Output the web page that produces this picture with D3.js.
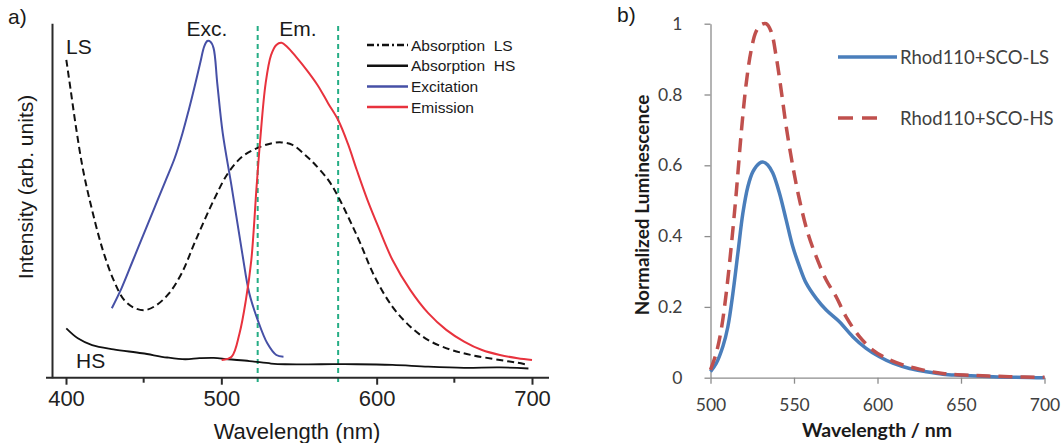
<!DOCTYPE html>
<html>
<head>
<meta charset="utf-8">
<script src="https://cdn.jsdelivr.net/npm/d3@7"></script>
<style>
  html, body { margin: 0; padding: 0; background: #fff; }
  svg { display: block; }
</style>
</head>
<body>
<svg id="fig" width="1061" height="443"></svg>
<script>
// ---------- Panel a: absorption / excitation / emission spectra ----------
const aTicksMajor = [400, 500, 600, 700];
const aTicksMinor = [450, 650];
const aFilterEdges = [523.4, 575.2];

// [wavelength nm, intensity arb.]
const absLS = [
  [400.2, 89.7], [403, 81.2], [406.4, 70.8], [411, 58.6], [416.8, 47.3], [423.7, 36],
  [430.6, 27.6], [437.5, 21.9], [444.4, 19.6], [451.3, 19.1], [458.3, 20.5], [466.3, 23.8],
  [474.4, 29.4], [483.6, 38.9], [495.1, 50.1], [504.3, 57.7], [513.5, 62.4], [522.7, 64.7],
  [532, 66.1], [538.8, 66.4], [545.8, 65.7], [555, 62.4], [559.6, 60.5], [568.8, 55.8],
  [575.2, 51.1], [582.6, 44.5], [589.5, 37.9], [598.7, 28.5], [610.2, 20], [621.7, 14.4],
  [633.2, 10.6], [647, 8], [660.9, 6.4], [679.3, 5], [690.8, 4.2], [697.7, 3.6]
];
const absHS = [
  [400.2, 13.9], [407.6, 11.1], [416.8, 9.2], [430.6, 8], [449, 6.9], [465.2, 5.7],
  [476.7, 5.2], [485.9, 5.5], [495.1, 5.6], [504.3, 5.2], [518.1, 4.7], [532, 4],
  [541.1, 3.8], [564.2, 3.8], [587.2, 3.8], [610.2, 3.6], [633.2, 3.1], [656.3, 2.8],
  [679.3, 2.9], [697.7, 2.6]
];
const excitation = [
  [429.5, 19.6], [436, 25.5], [443, 33], [450, 40.5], [457, 48], [464, 55.5],
  [470, 62], [475, 69], [479, 75.5], [483, 82.5], [486.5, 89], [489, 93.5],
  [491, 95], [493, 94.8], [495, 93], [497.4, 83], [500.9, 69], [506.6, 54],
  [513.5, 35], [518, 23.8], [523.4, 16.3], [529.6, 9.7], [535.4, 6.4], [540, 5.9]
];
const emission = [
  [500.2, 5], [506.6, 5.9], [511.7, 12.5], [515.8, 21.9], [519.3, 33.2], [522.7, 53.9],
  [525, 67], [528.5, 83], [532, 91], [535.4, 93.9], [538.8, 94.5], [542.3, 93.4],
  [548, 90.6], [555, 86.8], [561.9, 82.6], [568.8, 77.4], [575.2, 72.7], [581.4, 66.1],
  [587.2, 58.6], [594.1, 50.1], [601, 42.6], [610.2, 33.2], [621.7, 24.7], [633.2, 18.2],
  [644.8, 13.5], [656.3, 10.2], [667.8, 7.8], [679.3, 6.4], [690.8, 5.5], [700, 5]
];
const aLegend = ["Absorption  LS", "Absorption  HS", "Excitation", "Emission"];

// ---------- Panel b: normalized luminescence ----------
const bTicksX = [500, 550, 600, 650, 700];
const bTicksY = [0, 0.2, 0.4, 0.6, 0.8, 1];
const lumLS = [
  [500, 0.017], [503.4, 0.04], [507.4, 0.088], [510.4, 0.144], [513.4, 0.238], [516.4, 0.352],
  [519.4, 0.465], [522.4, 0.54], [525.4, 0.582], [529.3, 0.606], [531.7, 0.609], [534.3, 0.601],
  [537.3, 0.578], [541.3, 0.521], [545.3, 0.446], [549.3, 0.37], [553.3, 0.314], [557.3, 0.267],
  [563.3, 0.224], [569.3, 0.191], [577.2, 0.158], [585.2, 0.116], [593.2, 0.083], [601.2, 0.059],
  [609.2, 0.041], [619.2, 0.026], [629.2, 0.017], [639.2, 0.010], [649.2, 0.007], [669.2, 0.003],
  [700, 0]
];
const lumHS = [
  [500, 0.022], [503.4, 0.069], [506.4, 0.135], [509.4, 0.238], [512.4, 0.37], [515.4, 0.521],
  [518.4, 0.691], [521.4, 0.832], [524.4, 0.926], [527.3, 0.978], [530.3, 0.997], [533.3, 1.0],
  [536.3, 0.978], [539.3, 0.908], [542.3, 0.813], [545.3, 0.71], [549.3, 0.597], [553.3, 0.502],
  [558.3, 0.408], [563.3, 0.342], [569.3, 0.276], [575.2, 0.229], [581.2, 0.172], [589.2, 0.116],
  [597.2, 0.078], [605.2, 0.055], [615.2, 0.036], [625.1, 0.024], [639.1, 0.012], [659.1, 0.006],
  [679, 0.003], [700, 0.001]
];
const bLegend = ["Rhod110+SCO-LS", "Rhod110+SCO-HS"];

const svg = d3.select("#fig");
svg.append("rect").attr("width", 1061).attr("height", 443).attr("fill", "#fff");

// ================= Panel a =================
const ga = svg.append("g");
const xa = d3.scaleLinear().domain([400, 700]).range([66, 532]);
const ya = d3.scaleLinear().domain([0, 100]).range([377.7, 23.3]);
const lineA = d3.line().x(d => xa(d[0])).y(d => ya(d[1])).curve(d3.curveCatmullRom.alpha(0.5));
const aFont = "'Liberation Sans', Arial, sans-serif";
const axisCol = "#2a2a2a";

// filter edges (green dashed)
ga.selectAll("line.edge").data(aFilterEdges).join("line")
  .attr("x1", d => xa(d)).attr("x2", d => xa(d))
  .attr("y1", 26).attr("y2", 382)
  .attr("stroke", "#25ad85").attr("stroke-width", 2)
  .attr("stroke-dasharray", "5,4");

// axes
const xAxisA = d3.axisBottom(xa).tickValues(aTicksMajor).tickSize(7).tickSizeOuter(0)
  .tickFormat(d3.format("d"));
const gxa = ga.append("g").attr("transform", "translate(0,377.7)").call(xAxisA);
gxa.select(".domain").attr("d", "M46,0H549").attr("stroke", axisCol).attr("stroke-width", 2);
gxa.selectAll(".tick line").attr("stroke", axisCol).attr("stroke-width", 2);
gxa.selectAll(".tick text").attr("font-family", aFont).attr("font-size", 22)
  .attr("fill", "#222").attr("dy", "0.95em").attr("y", 7);
ga.append("g").attr("transform", "translate(0,377.7)")
  .selectAll("line").data(aTicksMinor).join("line")
  .attr("x1", d => xa(d)).attr("x2", d => xa(d)).attr("y1", 0).attr("y2", 5)
  .attr("stroke", axisCol).attr("stroke-width", 2);

const yAxisA = d3.axisLeft(ya).tickValues([]).tickSizeOuter(0);
const gya = ga.append("g").attr("transform", "translate(52,0)").call(yAxisA);
gya.select(".domain").attr("stroke", axisCol).attr("stroke-width", 2);

// curves
ga.append("path").datum(absHS).attr("d", lineA).attr("fill", "none")
  .attr("stroke", "#111").attr("stroke-width", 1.8);
ga.append("path").datum(absLS).attr("d", lineA).attr("fill", "none")
  .attr("stroke", "#111").attr("stroke-width", 2).attr("stroke-dasharray", "7,4");
ga.append("path").datum(excitation).attr("d", lineA).attr("fill", "none")
  .attr("stroke", "#4650a6").attr("stroke-width", 2);
ga.append("path").datum(emission).attr("d", lineA).attr("fill", "none")
  .attr("stroke", "#e8323d").attr("stroke-width", 2);

// labels
const txtA = (x, y, s, size, anchor) => ga.append("text").attr("x", x).attr("y", y)
  .attr("font-family", aFont).attr("font-size", size).attr("fill", "#1a1a1a")
  .attr("text-anchor", anchor || "start").text(s);
txtA(8, 24, "a)", 21);
txtA(207, 36, "Exc.", 21, "middle");
txtA(298, 36, "Em.", 21, "middle");
txtA(66, 54, "LS", 21);
txtA(76, 368, "HS", 21);
txtA(297, 439, "Wavelength (nm)", 22, "middle");
ga.append("text").attr("transform", "translate(33,187) rotate(-90)")
  .attr("font-family", aFont).attr("font-size", 21).attr("fill", "#1a1a1a")
  .attr("text-anchor", "middle").text("Intensity (arb. units)");

// legend
const aLegStyles = [
  { stroke: "#111", dash: "7,3,2,3" },
  { stroke: "#111", dash: null },
  { stroke: "#4650a6", dash: null },
  { stroke: "#e8323d", dash: null }
];
const legA = ga.append("g");
aLegend.forEach((s, i) => {
  const y = 45 + i * 20.7;
  legA.append("line").attr("x1", 367).attr("x2", 408).attr("y1", y).attr("y2", y)
    .attr("stroke", aLegStyles[i].stroke).attr("stroke-width", 2.5)
    .attr("stroke-dasharray", aLegStyles[i].dash);
  legA.append("text").attr("x", 411).attr("y", y).attr("dy", "0.36em")
    .attr("font-family", aFont).attr("font-size", 15.5).attr("fill", "#1a1a1a")
    .attr("xml:space", "preserve").style("white-space", "pre").text(s);
});

// ================= Panel b =================
const gb = svg.append("g");
const xb = d3.scaleLinear().domain([500, 700]).range([710.5, 1044.5]);
const yb = d3.scaleLinear().domain([0, 1]).range([377.7, 23.7]);
const lineB = d3.line().x(d => xb(d[0])).y(d => yb(d[1])).curve(d3.curveCatmullRom.alpha(0.5));
const bFont = "Lato, 'Open Sans', sans-serif";
const bAxisCol = "#8c8c8c";

const gxb = gb.append("g").attr("transform", `translate(0,${yb(0)})`)
  .call(d3.axisBottom(xb).tickValues(bTicksX).tickSize(6).tickSizeOuter(0));
gxb.select(".domain").attr("stroke", bAxisCol).attr("stroke-width", 1.3);
gxb.selectAll(".tick line").attr("stroke", bAxisCol).attr("stroke-width", 1.3);
gxb.selectAll(".tick text").attr("font-family", bFont).attr("font-size", 17.5)
  .attr("fill", "#404040").attr("y", 21);

const gyb = gb.append("g").attr("transform", `translate(${xb(500)},0)`)
  .call(d3.axisLeft(yb).tickValues(bTicksY).tickSize(6).tickSizeOuter(0)
    .tickFormat(d => d === 0 || d === 1 ? d3.format("d")(d) : d3.format(".1f")(d)));
gyb.select(".domain").attr("stroke", bAxisCol).attr("stroke-width", 1.3);
gyb.selectAll(".tick line").attr("stroke", bAxisCol).attr("stroke-width", 1.3);
gyb.selectAll(".tick text").attr("font-family", bFont).attr("font-size", 17.5)
  .attr("fill", "#404040").attr("x", -28);

gb.append("path").datum(lumLS).attr("d", lineB).attr("fill", "none")
  .attr("stroke", "#4a7ebb").attr("stroke-width", 3.5);
gb.append("path").datum(lumHS).attr("d", lineB).attr("fill", "none")
  .attr("stroke", "#c0504d").attr("stroke-width", 3.5).attr("stroke-dasharray", "14,8");

gb.append("text").attr("x", 617).attr("y", 22).attr("font-family", aFont)
  .attr("font-size", 21).attr("fill", "#1a1a1a").text("b)");
gb.append("text").attr("x", 877).attr("y", 437).attr("text-anchor", "middle")
  .attr("font-family", bFont).attr("font-size", 19.5).attr("font-weight", "bold")
  .attr("fill", "#1a1a1a").text("Wavelength / nm");
gb.append("text").attr("transform", "translate(649,205) rotate(-90)")
  .attr("text-anchor", "middle").attr("font-family", bFont).attr("font-size", 19)
  .attr("font-weight", "bold").attr("fill", "#1a1a1a").text("Normalized Luminescence");

const bLegStyles = [
  { stroke: "#4a7ebb", dash: null, x2: 897 },
  { stroke: "#c0504d", dash: "15,9", x2: 886 }
];
bLegend.forEach((s, i) => {
  const y = 57 + i * 61;
  gb.append("line").attr("x1", 838).attr("x2", bLegStyles[i].x2).attr("y1", y).attr("y2", y)
    .attr("stroke", bLegStyles[i].stroke).attr("stroke-width", 3.5)
    .attr("stroke-dasharray", bLegStyles[i].dash);
  gb.append("text").attr("x", 900).attr("y", y).attr("dy", "0.36em")
    .attr("font-family", bFont).attr("font-size", 18.5).attr("fill", "#404040").text(s);
});
</script>
</body>
</html>
